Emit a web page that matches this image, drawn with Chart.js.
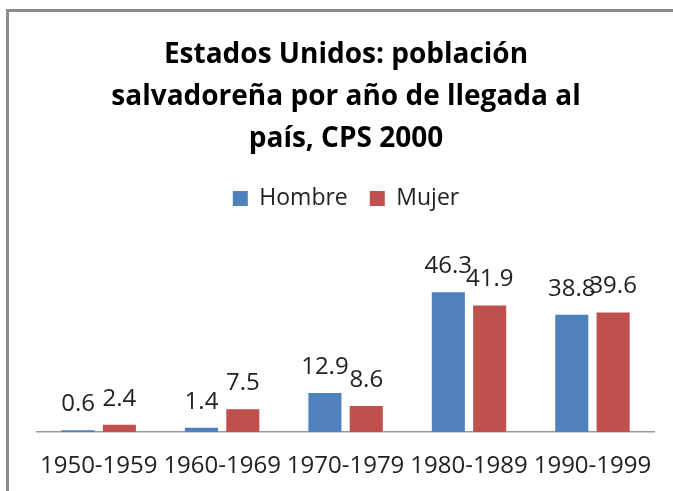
<!DOCTYPE html>
<html>
<head>
<meta charset="utf-8">
<script src="https://cdn.jsdelivr.net/npm/chart.js@4/dist/chart.umd.min.js"></script>
<style>
    body { margin: 0; background: #fff; }
    #wrap { position: absolute; left: 0; top: 0; width: 673px; height: 491px; }
    #frame { position: absolute; left: 6px; top: 9px; width: 680px; height: 500px;
             border-top: 3px solid #8c8c8c; border-left: 3px solid #8c8c8c; }
</style>
</head>
<body>
<div id="wrap">
    <div id="frame"></div>
    <canvas id="chart" width="673" height="491"></canvas>
</div>
<script>
    const categories = ["1950-1959", "1960-1969", "1970-1979", "1980-1989", "1990-1999"];
    const hombre = [0.6, 1.4, 12.9, 46.3, 38.8];
    const mujer = [2.4, 7.5, 8.6, 41.9, 39.6];
    const titleLines = ["Estados Unidos: población", "salvadoreña por año de llegada al", "país, CPS 2000"];

    const font = "'Open Sans', 'Noto Sans', sans-serif";

    // value labels above each bar
    const valueLabels = {
        id: "valueLabels",
        afterDatasetsDraw(chart) {
            const ctx = chart.ctx;
            ctx.save();
            ctx.font = "24px " + font;
            ctx.fillStyle = "#222";
            ctx.textAlign = "center";
            ctx.textBaseline = "alphabetic";
            chart.data.datasets.forEach((ds, i) => {
                chart.getDatasetMeta(i).data.forEach((bar, j) => {
                    ctx.fillText(ds.data[j].toFixed(1), bar.x, bar.y - 19);
                });
            });
            ctx.restore();
        }
    };

    // extra space under the legend so the labels above the tall bars fit
    const legendGap = {
        id: "legendGap",
        beforeInit(chart) {
            const fit = chart.legend.fit;
            chart.legend.fit = function () {
                fit.bind(chart.legend)();
                this.height += 61;
            };
        }
    };

    new Chart(document.getElementById("chart"), {
        type: "bar",
        data: {
            labels: categories,
            datasets: [
                { label: "Hombre", data: hombre, backgroundColor: "#4f81bd", borderWidth: 0 },
                { label: "Mujer", data: mujer, backgroundColor: "#c0504d", borderWidth: 0 }
            ]
        },
        options: {
            responsive: false,
            animation: false,
            categoryPercentage: 0.67,
            barPercentage: 0.8,
            layout: { padding: { left: 37, right: 18, top: 34, bottom: 10 } },
            plugins: {
                title: {
                    display: true,
                    text: titleLines,
                    color: "#000",
                    font: { family: font, size: 28, weight: "bold", lineHeight: 1.5 },
                    padding: { top: 0, bottom: 5 }
                },
                legend: {
                    position: "top",
                    labels: {
                        color: "#222",
                        font: { family: font, size: 23 },
                        boxWidth: 15,
                        boxHeight: 15,
                        padding: 22
                    }
                },
                tooltip: { enabled: false }
            },
            scales: {
                x: {
                    grid: { display: false, drawTicks: false },
                    border: { color: "#999", width: 1.5 },
                    ticks: { color: "#222", font: { family: font, size: 24 }, padding: 20, maxRotation: 0 },
                    afterFit(scale) { scale.height = 49; }
                },
                y: { display: false, min: 0, max: 50 }
            }
        },
        plugins: [valueLabels, legendGap]
    });
</script>
</body>
</html>
